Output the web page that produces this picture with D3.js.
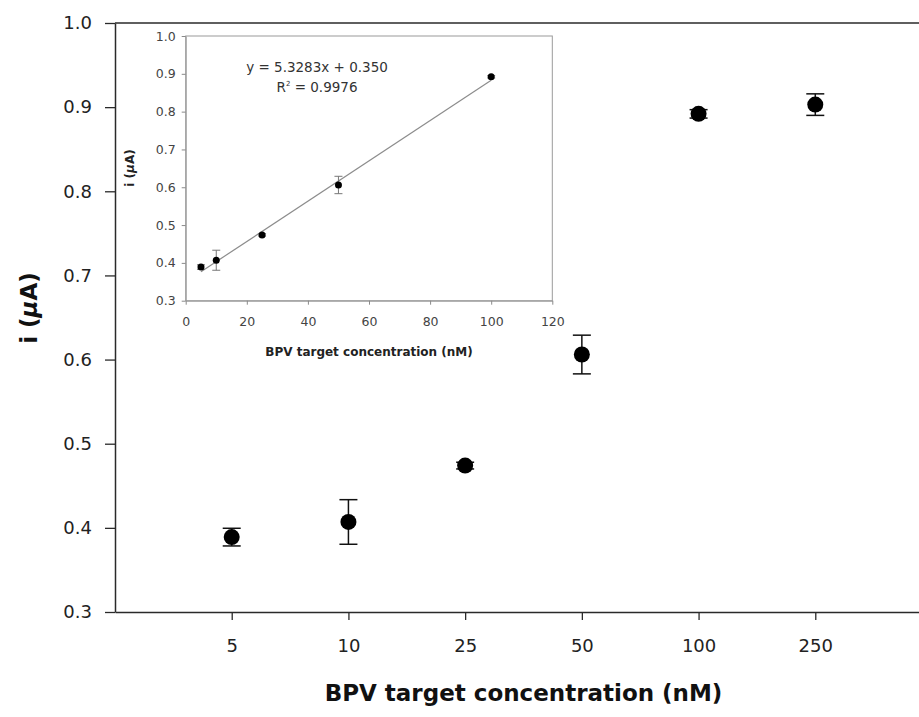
<!DOCTYPE html>
<html>
<head>
<meta charset="utf-8">
<script src="https://cdn.jsdelivr.net/npm/d3@7"></script>
<style>
  html, body { margin: 0; padding: 0; background: #fff; }
  svg { display: block; font-family: "DejaVu Sans", sans-serif; }
</style>
</head>
<body>
<svg id="chart" width="919" height="717"></svg>
<script>
// ---- Data ----
const categories = ["5", "10", "25", "50", "100", "250"];
const concentrations = [5, 10, 25, 50, 100, 250];
const currentMean = [0.389, 0.407, 0.474, 0.606, 0.892, 0.903];
const currentErr = [0.0105, 0.0265, 0.004, 0.023, 0.005, 0.0128];
const yTicks = [0.3, 0.4, 0.5, 0.6, 0.7, 0.8, 0.9, 1.0];

const insetConc = [5, 10, 25, 50, 100];
const insetMean = [0.389, 0.407, 0.474, 0.606, 0.892];
const insetErr = [0.006, 0.0265, 0.003, 0.023, 0.003];
const insetXTicks = [0, 20, 40, 60, 80, 100, 120];
const insetYTicks = [0.3, 0.4, 0.5, 0.6, 0.7, 0.8, 0.9, 1.0];
const fitSlope = 5.3283, fitIntercept = 0.350; // x in µM
const fitRange = [5, 100];

const svg = d3.select("#chart");

// ---- Main chart ----
const M = { left: 115, right: 932, top: 23, bottom: 612 };
const x = d3.scalePoint().domain(categories).range([M.left, M.right]).padding(1);
const y = d3.scaleLinear().domain([0.3, 1.0]).range([M.bottom, M.top]);

const axisColor = "#2a2a2a";

// frame top line
svg.append("line")
  .attr("x1", M.left).attr("x2", M.right)
  .attr("y1", M.top).attr("y2", M.top)
  .attr("stroke", axisColor).attr("stroke-width", 1.5);

const gx = svg.append("g").attr("transform", `translate(0,${M.bottom})`)
  .call(d3.axisBottom(x).tickSize(8).tickPadding(19).tickSizeOuter(0));
const gy = svg.append("g").attr("transform", `translate(${M.left},0)`)
  .call(d3.axisLeft(y).tickValues(yTicks).tickFormat(d3.format(".1f")).tickSize(10).tickPadding(13).tickSizeOuter(0));
[gx, gy].forEach(g => {
  g.select(".domain").attr("stroke", axisColor).attr("stroke-width", 1.5);
  g.selectAll(".tick line").attr("stroke", axisColor).attr("stroke-width", 1.3);
  g.selectAll(".tick text").attr("fill", "#222").style("font-family", "DejaVu Sans").style("font-size", "18px");
});

// error bars
const capW = 9;
const eb = svg.append("g").attr("stroke", "#111").attr("stroke-width", 1.5);
categories.forEach((c, i) => {
  const cx = x(c), yt = y(currentMean[i] + currentErr[i]), yb = y(currentMean[i] - currentErr[i]);
  eb.append("line").attr("x1", cx).attr("x2", cx).attr("y1", yt).attr("y2", yb);
  eb.append("line").attr("x1", cx - capW).attr("x2", cx + capW).attr("y1", yt).attr("y2", yt);
  eb.append("line").attr("x1", cx - capW).attr("x2", cx + capW).attr("y1", yb).attr("y2", yb);
});
svg.append("g").selectAll("circle").data(categories).join("circle")
  .attr("cx", d => x(d)).attr("cy", (d, i) => y(currentMean[i]))
  .attr("r", 8).attr("fill", "#000");

// axis titles
svg.append("text")
  .attr("x", (M.left + M.right) / 2).attr("y", 701)
  .attr("text-anchor", "middle").attr("font-weight", "bold").attr("font-size", 23).attr("fill", "#111")
  .text("BPV target concentration (nM)");
const yt = svg.append("text")
  .attr("transform", "translate(37,308) rotate(-90)")
  .attr("text-anchor", "middle").attr("font-weight", "bold").attr("font-size", 23).attr("fill", "#111");
yt.append("tspan").text("i (");
yt.append("tspan").attr("font-style", "italic").text("μ");
yt.append("tspan").text("A)");

// ---- Inset ----
const I = { left: 185.7, right: 552.3, top: 36, bottom: 300.7 };
const ix = d3.scaleLinear().domain([0, 120]).range([I.left, I.right]);
const iy = d3.scaleLinear().domain([0.3, 1.0]).range([I.bottom, I.top]);
const inset = svg.append("g");
inset.append("rect")
  .attr("x", I.left).attr("y", I.top)
  .attr("width", I.right - I.left).attr("height", I.bottom - I.top)
  .attr("fill", "#fff").attr("stroke", "#9a9a9a").attr("stroke-width", 1);

const igx = inset.append("g").attr("transform", `translate(0,${I.bottom})`)
  .call(d3.axisBottom(ix).tickValues(insetXTicks).tickFormat(d3.format("d")).tickSize(4).tickPadding(12).tickSizeOuter(0));
const igy = inset.append("g").attr("transform", `translate(${I.left},0)`)
  .call(d3.axisLeft(iy).tickValues(insetYTicks).tickFormat(d3.format(".1f")).tickSize(4).tickPadding(6).tickSizeOuter(0));
[igx, igy].forEach(g => {
  g.select(".domain").attr("stroke", "#9a9a9a").attr("stroke-width", 1);
  g.selectAll(".tick line").attr("stroke", "#8a8a8a");
  g.selectAll(".tick text").attr("fill", "#444").style("font-family", "DejaVu Sans").style("font-size", "12.5px");
});

// regression line
inset.append("line")
  .attr("x1", ix(fitRange[0])).attr("y1", iy(fitSlope * fitRange[0] / 1000 + fitIntercept))
  .attr("x2", ix(fitRange[1])).attr("y2", iy(fitSlope * fitRange[1] / 1000 + fitIntercept))
  .attr("stroke", "#8c8c8c").attr("stroke-width", 1.2);

const ieb = inset.append("g").attr("stroke", "#777").attr("stroke-width", 1);
insetConc.forEach((c, i) => {
  const cx = ix(c), t = iy(insetMean[i] + insetErr[i]), b = iy(insetMean[i] - insetErr[i]);
  ieb.append("line").attr("x1", cx).attr("x2", cx).attr("y1", t).attr("y2", b);
  ieb.append("line").attr("x1", cx - 4).attr("x2", cx + 4).attr("y1", t).attr("y2", t);
  ieb.append("line").attr("x1", cx - 4).attr("x2", cx + 4).attr("y1", b).attr("y2", b);
});
inset.append("g").selectAll("circle").data(insetConc).join("circle")
  .attr("cx", d => ix(d)).attr("cy", (d, i) => iy(insetMean[i]))
  .attr("r", 3.5).attr("fill", "#000");

inset.append("text")
  .attr("x", 317).attr("y", 71.5).attr("text-anchor", "middle")
  .attr("font-size", 13.5).attr("fill", "#333")
  .text(`y = ${fitSlope}x + ${fitIntercept.toFixed(3)}`);
const r2 = inset.append("text")
  .attr("x", 317).attr("y", 91.5).attr("text-anchor", "middle")
  .attr("font-size", 13.5).attr("fill", "#333");
r2.append("tspan").text("R");
r2.append("tspan").attr("font-size", 7).attr("dy", -6).text("2");
r2.append("tspan").attr("dy", 6).text(" = 0.9976");

inset.append("text")
  .attr("x", (I.left + I.right) / 2).attr("y", 356)
  .attr("text-anchor", "middle").attr("font-weight", "bold").attr("font-size", 12).attr("fill", "#222")
  .text("BPV target concentration (nM)");
const iyt = inset.append("text")
  .attr("transform", "translate(134,168) rotate(-90)")
  .attr("text-anchor", "middle").attr("font-weight", "bold").attr("font-size", 12).attr("fill", "#222");
iyt.append("tspan").text("i (");
iyt.append("tspan").attr("font-style", "italic").text("μ");
iyt.append("tspan").text("A)");
</script>
</body>
</html>
